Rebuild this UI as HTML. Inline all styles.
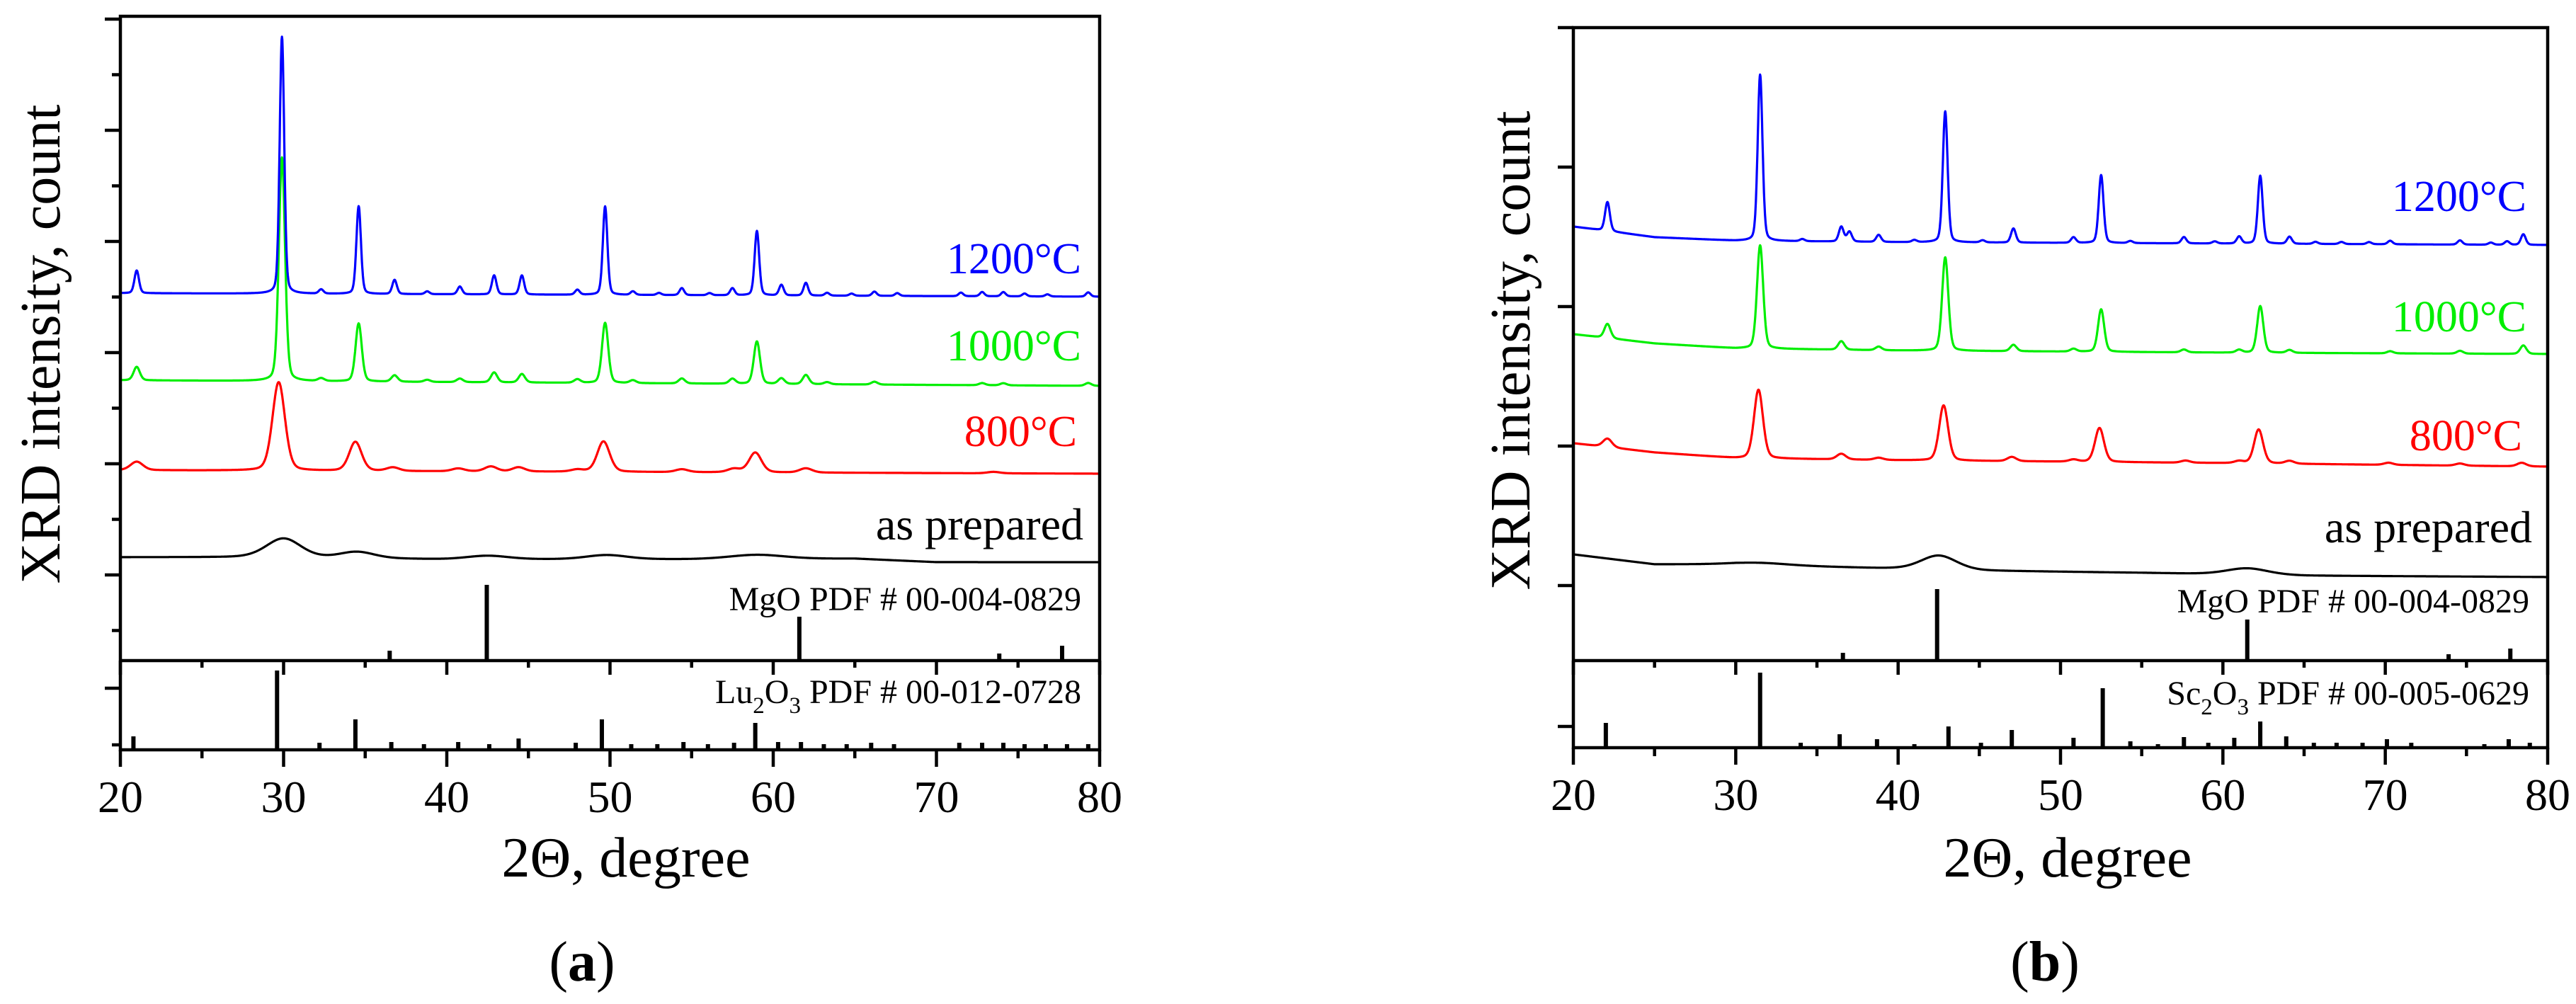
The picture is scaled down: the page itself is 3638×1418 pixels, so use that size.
<!DOCTYPE html>
<html><head><meta charset="utf-8"><style>
html,body{margin:0;padding:0;background:#fff;}
svg{display:block;font-family:"Liberation Serif","Times New Roman",serif;}
svg text{font-family:"Liberation Serif","Times New Roman",serif;}
</style></head><body>
<svg id="fig" width="3638" height="1418" viewBox="0 0 3638 1418" xmlns="http://www.w3.org/2000/svg"></svg>
<script>
// ---------- Panel A data (2θ in degrees, intensity in a.u.) ----------
const aBlueBaseX=[20,80], aBlueBaseY=[519,514];
const aBluePos=[21.0,29.9,32.3,34.6,36.8,38.8,40.8,42.9,44.6,48.0,49.7,51.4,53.0,54.4,56.1,57.5,59.0,60.5,62.0,63.3,64.8,66.2,67.6,71.5,72.8,74.1,75.4,76.8,79.3];
const aBlueH=[32,363,6,124,20,4,11,27,27,7,125,5,3,10,3,10,91,15,18,4,3,6,4,5,6,6,4,3,6];
const aGreenBaseX=[20,80], aGreenBaseY=[396,388];
const aGreenPos=[21.0,29.9,32.3,34.6,36.8,38.8,40.8,42.9,44.6,48.0,49.7,51.4,54.4,57.5,59.0,60.5,62.0,63.3,66.2,72.8,74.1,79.3];
const aGreenH=[19,316,4,82,9,3,5,14,12,5,85,4,7,7,60,8,13,3,4,3,3,4];
const aRedBaseX=[20,80], aRedBaseY=[269,264];
const aRedPos=[21.0,29.7,34.4,36.7,40.7,42.7,44.4,48.0,49.6,54.4,57.6,58.9,62.0,73.5];
const aRedH=[12,125,41,5,4,7,6,3,43,4,5,28,6,2];
const aBlackBaseX=[20,28,40,55,65,70,80], aBlackBaseY=[146,146,143,143,144,139,139];
const aBlackPos=[30.0,34.5,42.5,49.8,59.0], aBlackH=[27,9,5,6,6], aBlackW=[2.5,2.5,3,3,4];
const aMgoPos=[36.5,42.45,61.6,73.85,77.7], aMgoH=[14,107,62,10,21];
const aLuPos=[20.8,29.6,32.2,34.4,36.6,38.6,40.7,42.6,44.4,47.9,49.5,51.3,52.9,54.5,56.0,57.6,58.9,60.3,61.7,63.1,64.5,66.0,67.4,71.4,72.8,74.1,75.4,76.7,78.0,79.3];
const aLuH=[19,112,10,43,11,8,11,8,16,10,43,8,8,11,8,10,38,11,11,8,8,10,8,10,10,10,8,8,8,8];
// ---------- Panel B data ----------
const bBlueBaseX=[20,25,30,40,60,80], bBlueBaseY=[613,598,593,591,589,587];
const bBluePos=[22.1,31.5,34.1,36.5,37.0,38.8,41.0,42.9,45.2,47.1,50.8,52.5,54.3,57.6,59.5,61.0,62.3,64.1,65.7,67.3,69.0,70.3,74.6,76.5,77.5,78.5];
const bBlueH=[41,235,3,21,14,10,3,185,3,20,8,96,3,9,3,10,96,10,3,3,3,5,6,3,5,15];
const bGreenBaseX=[20,25,30,40,60,80], bGreenBaseY=[461,448,441,438,435,433];
const bGreenPos=[22.1,31.5,36.5,38.8,42.9,47.1,50.8,52.5,57.6,61.0,62.3,64.1,70.3,74.6,78.5];
const bGreenH=[20,146,12,5,132,9,4,60,4,4,66,4,3,4,12];
const bRedBaseX=[20,25,30,40,60,80], bRedBaseY=[307,294,286,283,279,274];
const bRedPos=[22.1,31.4,36.5,38.8,42.8,47.0,50.8,52.4,57.7,61.0,62.2,64.1,70.2,74.6,78.4];
const bRedH=[12,97,8,3,78,6,3,48,3,3,48,4,3,3,5];
const bBlackBaseX=[20,25,30,38,45,55,65,80], bBlackBaseY=[150,136,136,131,127,124,120,118];
const bBlackPos=[31.5,42.5,61.5], bBlackH=[3,20,9], bBlackW=[4,2.6,3];
const bMgoPos=[36.6,42.4,61.5,73.9,77.7], bMgoH=[11,101,58,9,17];
const bScPos=[22.0,31.5,34.0,36.4,38.7,41.0,43.1,45.1,47.0,50.8,52.6,54.3,56.0,57.6,59.1,60.7,62.3,63.9,65.6,67.0,68.6,70.1,71.6,76.1,77.6,78.9];
const bScH=[35,106,7,19,12,5,30,7,25,14,84,9,5,15,7,14,37,16,7,7,7,12,7,5,12,7];
const xTickLabels=["20","30","40","50","60","70","80"];

const NS="http://www.w3.org/2000/svg";
const FONT='"Liberation Serif","Times New Roman",serif';
const svg=document.getElementById('fig');
function mk(tag,attrs,parent){const e=document.createElementNS(NS,tag);for(const k in attrs)e.setAttribute(k,attrs[k]);if(tag==='text')e.setAttribute('font-family',FONT);(parent||svg).appendChild(e);return e;}
function interp(xs,ys,x){if(x<=xs[0])return ys[0];for(let i=1;i<xs.length;i++){if(x<=xs[i]){const t=(x-xs[i-1])/(xs[i]-xs[i-1]);return ys[i-1]+t*(ys[i]-ys[i-1]);}}return ys[ys.length-1];}
function profile(x,p,w){const d=(x-p)/w;return 0.75*Math.exp(-2.7726*d*d)+0.25/(1+4*d*d);}

function panel(G,name){
  const g=mk('g',{});
  
  
  G.g=g;
  G.xs=v=>G.L+(v-20)*(G.R-G.L)/60;
  G.yu=v=>G.D-v;
  return G;
}
function series(G,bx,by,pos,h,w,color,name){
  let d='';
  for(let x=20;x<=80.0001;x+=0.02){
    let v=interp(bx,by,x);
    for(let i=0;i<pos.length;i++){const ww=Array.isArray(w)?w[i]:w;v+=h[i]*profile(x,pos[i],ww);}
    d+=(d?'L':'M')+G.xs(x).toFixed(1)+' '+G.yu(v).toFixed(1);
  }
  const p=mk('path',{d:d,fill:'none',stroke:color,'stroke-width':3.2,'stroke-linejoin':'round'},G.g);
  
  
}
function sticks(G,pos,h,base,name){
  const gg=mk('g',{},G.g);
  
  
  for(let i=0;i<pos.length;i++){
    const x=G.xs(pos[i]);
    const y0=base==='u'?G.D:G.B;
    const l=mk('line',{x1:x,x2:x,y1:y0,y2:y0-h[i],stroke:'#000','stroke-width':6},gg);
    
    
  }
}
function frame(G,leftTicksU,leftTicksL){
  const s={stroke:'#000','stroke-width':4.5,fill:'none'};
  const r=mk('rect',Object.assign({x:G.L,y:G.T,width:G.R-G.L,height:G.B-G.T},s),G.g);
  
  
  const dv=mk('line',Object.assign({x1:G.L,x2:G.R,y1:G.D,y2:G.D},s),G.g);
  
  
  for(let v=20;v<=80;v+=5){
    const x=G.xs(v),maj=(v%10===0);
    const t1=mk('line',{x1:x,x2:x,y1:G.B,y2:G.B+(maj?24:12),stroke:'#000','stroke-width':4.5},G.g);
    
    
    const t2=mk('line',{x1:x,x2:x,y1:G.D,y2:G.D+(maj?20:10),stroke:'#000','stroke-width':4.5},G.g);
    
    
  }
  xTickLabels.forEach((lab,i)=>{
    const t=mk('text',{x:G.xs(20+i*10),y:G.B+88,'font-size':64,'text-anchor':'middle',fill:'#000'},G.g);
    
    
    t.textContent=lab;
  });
  leftTicksU.concat(leftTicksL).forEach(tk=>{
    const l=mk('line',{x1:G.L-tk[1],x2:G.L,y1:tk[0],y2:tk[0],stroke:'#000','stroke-width':4.5},G.g);
    
    
  });
}
function label(G,x,y,txt,color,size,name,anchor){
  const t=mk('text',{x:x,y:y,'font-size':size,'text-anchor':anchor||'end',fill:color},G.g);
  
  
  t.textContent=txt;return t;
}
function subLabel(G,x,y,a,s1,b,s2,rest,name){
  const t=mk('text',{x:x,y:y,'font-size':48,'text-anchor':'end',fill:'#000'},G.g);
  
  
  const parts=[[a,0],[s1,14],[b,-14],[s2,14],[rest,-14]];
  parts.forEach(p=>{const ts=mk('tspan',{dy:p[1],'font-size':(p[0].length===1&&/\d/.test(p[0]))?33:48},t);ts.textContent=p[0];});
}

// ---------- Panel A ----------
const A=panel({L:170,R:1553,T:23,D:933,B:1059},'panel-a');
series(A,aBlackBaseX,aBlackBaseY,aBlackPos,aBlackH,aBlackW,'#000','as-prepared-curve');
series(A,aRedBaseX,aRedBaseY,aRedPos,aRedH,0.9,'#ff0000','800c-curve');
series(A,aGreenBaseX,aGreenBaseY,aGreenPos,aGreenH,0.45,'#00ee00','1000c-curve');
series(A,aBlueBaseX,aBlueBaseY,aBluePos,aBlueH,0.33,'#0000ff','1200c-curve');
sticks(A,aMgoPos,aMgoH,'u','mgo-reference-sticks');
sticks(A,aLuPos,aLuH,'l','lu2o3-reference-sticks');
const aTicksU=[];for(let k=0;k<12;k++)aTicksU.push([27+78.5*k,k%2===0?22:12]);
frame(A,aTicksU,[[972,22],[1052,12]]);
label(A,1527,386,'1200°C','#0000ff',62,'label-1200c');
label(A,1527,509,'1000°C','#00ee00',62,'label-1000c');
label(A,1521,630,'800°C','#ff0000',62,'label-800c');
label(A,1530,762,'as prepared','#000',64,'label-as-prepared');
label(A,1527,862,'MgO PDF # 00-004-0829','#000',48,'mgo-reference-label');
subLabel(A,1527,993,'Lu','2','O','3',' PDF # 00-012-0728','lu2o3-reference-label');
const ayl=mk('text',{x:0,y:0,'font-size':80,'text-anchor':'middle',transform:'translate(84,486) rotate(-90)',fill:'#000'},A.g);


ayl.textContent='XRD intensity, count';
label(A,884,1238,'2Θ, degree','#000',80,'x-axis-title','middle');
const ca=mk('text',{x:822,y:1385,'font-size':80,'text-anchor':'middle',fill:'#000'},A.g);


mk('tspan',{},ca).textContent='(';const cab=mk('tspan',{'font-weight':'bold'},ca);cab.textContent='a';mk('tspan',{},ca).textContent=')';

// ---------- Panel B ----------
const B=panel({L:2222,R:3598,T:39,D:933,B:1056},'panel-b');
series(B,bBlackBaseX,bBlackBaseY,bBlackPos,bBlackH,bBlackW,'#000','as-prepared-curve');
series(B,bRedBaseX,bRedBaseY,bRedPos,bRedH,0.65,'#ff0000','800c-curve');
series(B,bGreenBaseX,bGreenBaseY,bGreenPos,bGreenH,0.45,'#00ee00','1000c-curve');
series(B,bBlueBaseX,bBlueBaseY,bBluePos,bBlueH,0.35,'#0000ff','1200c-curve');
sticks(B,bMgoPos,bMgoH,'u','mgo-reference-sticks');
sticks(B,bScPos,bScH,'l','sc2o3-reference-sticks');
frame(B,[[39,22],[236,22],[433,22],[630,22],[827,22]],[[1026,22]]);
label(B,3568,298,'1200°C','#0000ff',62,'label-1200c');
label(B,3568,468,'1000°C','#00ee00',62,'label-1000c');
label(B,3562,636,'800°C','#ff0000',62,'label-800c');
label(B,3576,766,'as prepared','#000',64,'label-as-prepared');
label(B,3572,865,'MgO PDF # 00-004-0829','#000',48,'mgo-reference-label');
subLabel(B,3572,995,'Sc','2','O','3',' PDF # 00-005-0629','sc2o3-reference-label');
const byl=mk('text',{x:0,y:0,'font-size':80,'text-anchor':'middle',transform:'translate(2160,495) rotate(-90)',fill:'#000'},B.g);


byl.textContent='XRD intensity, count';
label(B,2920,1238,'2Θ, degree','#000',80,'x-axis-title','middle');
const cb=mk('text',{x:2888,y:1385,'font-size':80,'text-anchor':'middle',fill:'#000'},B.g);


mk('tspan',{},cb).textContent='(';const cbb=mk('tspan',{'font-weight':'bold'},cb);cbb.textContent='b';mk('tspan',{},cb).textContent=')';
</script>
</body></html>
